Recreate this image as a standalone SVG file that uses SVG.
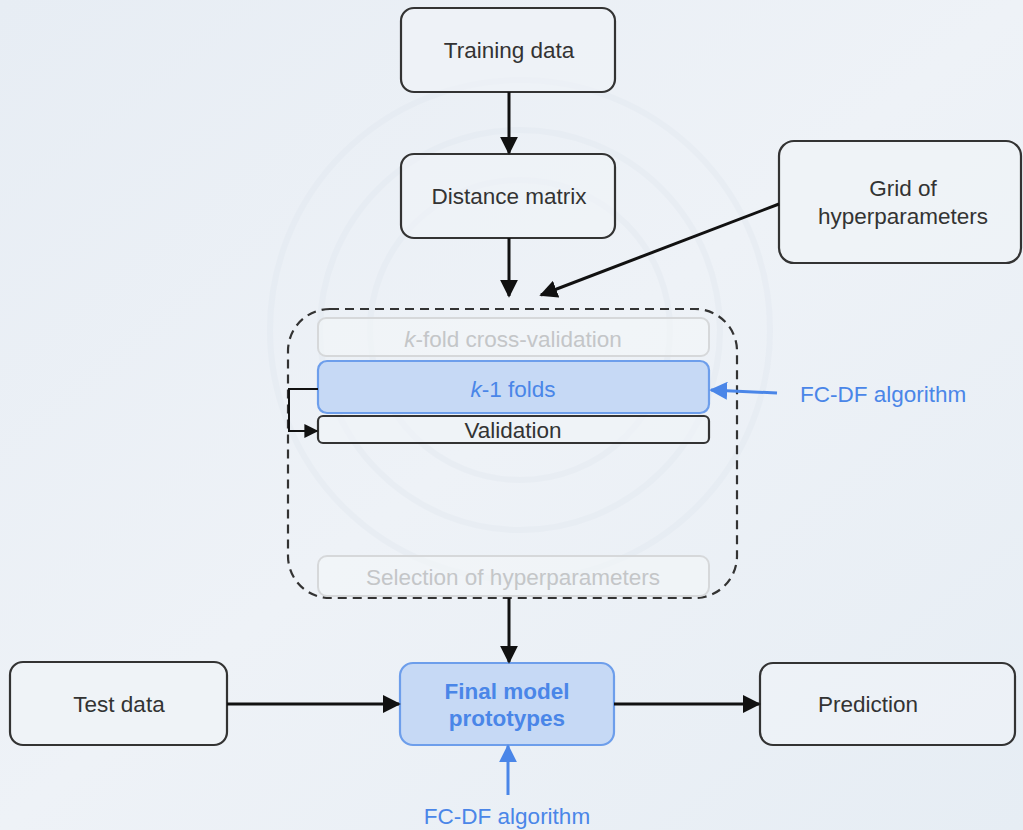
<svg xmlns="http://www.w3.org/2000/svg" width="1023" height="830" viewBox="0 0 1023 830">
  <defs>
    <linearGradient id="bg" x1="0" y1="0" x2="1" y2="1">
      <stop offset="0" stop-color="#e7edf4"/>
      <stop offset="0.5" stop-color="#eef2f7"/>
      <stop offset="1" stop-color="#e6edf4"/>
    </linearGradient>
    <marker id="arrow" viewBox="0 0 10 10" refX="9" refY="5" markerWidth="6" markerHeight="6" orient="auto" markerUnits="strokeWidth">
      <path d="M0,0 L10,5 L0,10 z" fill="#111"/>
    </marker>
    <marker id="arrowSmall" viewBox="0 0 10 10" refX="9" refY="5" markerWidth="7" markerHeight="7" orient="auto" markerUnits="strokeWidth">
      <path d="M0,0 L10,5 L0,10 z" fill="#111"/>
    </marker>
    <marker id="arrowBlue" viewBox="0 0 10 10" refX="9" refY="5" markerWidth="6" markerHeight="6" orient="auto" markerUnits="strokeWidth">
      <path d="M0,0 L10,5 L0,10 z" fill="#4a86e8"/>
    </marker>
  </defs>
  <style>
    .box { fill: #f1f4f8; fill-opacity: 0.55; stroke: #333; stroke-width: 2.2; }
    .blue { fill: #c6d9f5; stroke: #6d9eeb; stroke-width: 2.2; }
    .faint { fill: #f4f6f9; fill-opacity: 0.6; stroke: #d6d8da; stroke-width: 2; }
    .label { font-family: "Liberation Sans", Arial, sans-serif; font-size: 22.5px; fill: #333; text-anchor: middle; }
    .faintlabel { font-family: "Liberation Sans", Arial, sans-serif; font-size: 22.5px; fill: #c4c6c8; text-anchor: middle; }
    .bluelabel { font-family: "Liberation Sans", Arial, sans-serif; font-size: 22.5px; fill: #4a86e8; }
    .edge { fill: none; stroke: #111; stroke-width: 3; }
    .edgeBlue { fill: none; stroke: #4a86e8; stroke-width: 3; }
  </style>

  <rect x="0" y="0" width="1023" height="830" fill="url(#bg)"/>
  <g fill="none" stroke="#dfe6ee" stroke-width="6" opacity="0.35">
    <circle cx="520" cy="330" r="250"/>
    <circle cx="520" cy="330" r="200"/>
    <circle cx="520" cy="330" r="150"/>
  </g>

  <!-- dashed cross-validation container -->
  <g id="cv-container">
    <rect x="288" y="309" width="449" height="289" rx="42" fill="none" stroke="#333" stroke-width="2.2" stroke-dasharray="9,6"/>
  </g>

  <g id="training-data">
    <rect class="box" x="401" y="8" width="214" height="84" rx="13"/>
    <text class="label" x="509" y="58">Training data</text>
  </g>

  <g id="distance-matrix">
    <rect class="box" x="401" y="154" width="214" height="84" rx="13"/>
    <text class="label" x="509" y="204">Distance matrix</text>
  </g>

  <g id="grid-hyperparameters">
    <rect class="box" x="779" y="141" width="242" height="122" rx="15"/>
    <text class="label" x="903" y="196">Grid of</text>
    <text class="label" x="903" y="224">hyperparameters</text>
  </g>

  <g id="kfold-cv">
    <rect class="faint" x="318" y="318" width="391" height="38" rx="8"/>
    <text class="faintlabel" x="513" y="347"><tspan font-style="italic">k</tspan>-fold cross-validation</text>
  </g>

  <g id="k-1-folds">
    <rect class="blue" x="318" y="361" width="391" height="52" rx="9"/>
    <text class="label" x="513" y="397" style="fill:#4a86e8"><tspan font-style="italic">k</tspan>-1 folds</text>
  </g>

  <g id="validation">
    <rect class="box" x="318" y="416" width="391" height="27" rx="5"/>
    <text class="label" x="513" y="438">Validation</text>
  </g>

  <g id="selection-hyperparameters">
    <rect class="faint" x="318" y="556" width="391" height="40" rx="9"/>
    <text class="faintlabel" x="513" y="585">Selection of hyperparameters</text>
  </g>

  <g id="test-data">
    <rect class="box" x="10" y="662" width="217" height="83" rx="13"/>
    <text class="label" x="119" y="712">Test data</text>
  </g>

  <g id="final-model">
    <rect class="blue" x="400" y="663" width="214" height="82" rx="13"/>
    <text class="label" x="507" y="699" style="fill:#4a86e8;font-weight:bold">Final model</text>
    <text class="label" x="507" y="726" style="fill:#4a86e8;font-weight:bold">prototypes</text>
  </g>

  <g id="prediction">
    <rect class="box" x="760" y="663" width="255" height="82" rx="13"/>
    <text class="label" x="868" y="712">Prediction</text>
  </g>

  <g id="fcdf-label-right">
    <text class="bluelabel" x="800" y="402">FC-DF algorithm</text>
  </g>
  <g id="fcdf-label-bottom">
    <text class="bluelabel" x="507" y="824" text-anchor="middle">FC-DF algorithm</text>
  </g>

  <g id="connectors">
    <line class="edge" x1="509" y1="92" x2="509" y2="153" marker-end="url(#arrow)"/>
    <line class="edge" x1="509" y1="238" x2="509" y2="296" marker-end="url(#arrow)"/>
    <line class="edge" x1="779" y1="204" x2="541" y2="295" marker-end="url(#arrow)"/>
    <polyline class="edge" style="stroke-width:2" points="318,389 289,389 289,431 317,431" marker-end="url(#arrowSmall)"/>
    <line class="edgeBlue" x1="777" y1="393" x2="711" y2="390" marker-end="url(#arrowBlue)"/>
    <line class="edge" x1="509" y1="598" x2="509" y2="662" marker-end="url(#arrow)"/>
    <line class="edge" x1="227" y1="704" x2="399" y2="704" marker-end="url(#arrow)"/>
    <line class="edge" x1="614" y1="704" x2="759" y2="704" marker-end="url(#arrow)"/>
    <line class="edgeBlue" x1="508" y1="795" x2="508" y2="746" marker-end="url(#arrowBlue)"/>
  </g>
</svg>
